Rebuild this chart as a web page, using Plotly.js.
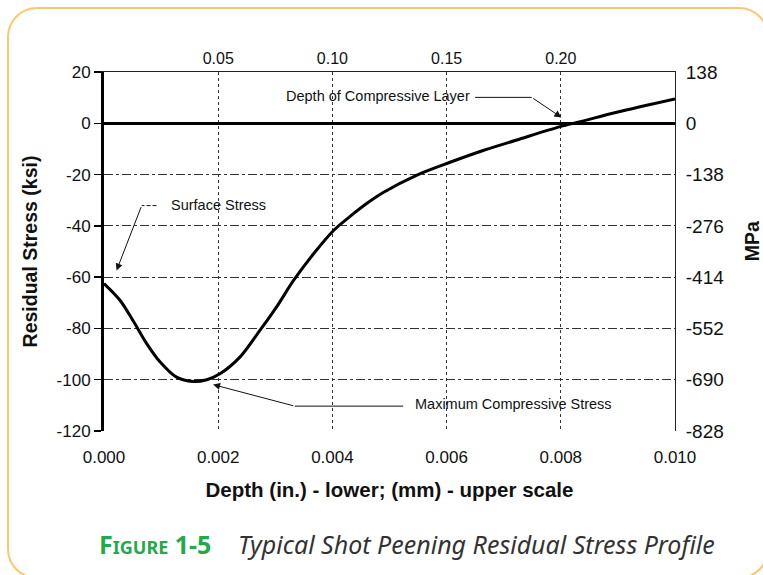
<!DOCTYPE html>
<html>
<head>
<meta charset="utf-8">
<script src="https://cdn.plot.ly/plotly-3.0.1.min.js"></script>
<style>
  html, body { margin: 0; padding: 0; background: #ffffff; overflow: hidden; }
  #frame { position: absolute; left: 7px; top: 7px; width: 762px; height: 572px; box-sizing: border-box;
           border: 2.5px solid #fdc76c; border-radius: 30px; }
  #chart { position: absolute; left: 0; top: 0; width: 763px; height: 575px; }
</style>
</head>
<body>
<div id="frame"></div>
<div id="chart"></div>
<script>
// Depth (in.) and residual stress (ksi)
const depthIn = [0, 0.00028, 0.00051, 0.00075, 0.00098, 0.00127, 0.00156, 0.0018, 0.00203, 0.00238,
                 0.00273, 0.00302, 0.00332, 0.00367, 0.00402, 0.00431, 0.0046, 0.00489, 0.0055, 0.00606,
                 0.00664, 0.00723, 0.00799, 0.00834, 0.00898, 0.0100];
const stressKsi = [-62.5, -69, -77, -86, -93, -99, -100.7, -100, -97.7, -91.2,
                   -80.8, -71.7, -61.3, -50.9, -41.8, -36.3, -31.3, -27, -20, -15.2,
                   -10.6, -6.5, -1.3, 0.6, 4.3, 9.5];

// Axis ticks
const ksiTicks = [20, 0, -20, -40, -60, -80, -100, -120];
const ksiTickText = ['20', '0', '-20', '-40', '-60', '-80', '-100', '-120'];
const mpaTicks = [138, 0, -138, -276, -414, -552, -690, -828];
const mpaTickText = ['138', '0', '-138', '-276', '-414', '-552', '-690', '-828'];
const inchTicks = [0, 0.002, 0.004, 0.006, 0.008, 0.010];
const mmTickPos = [0.002, 0.004, 0.006, 0.008];
const mmTickText = ['0.05', '0.10', '0.15', '0.20'];

// Callout labels
const calloutText = ['Depth of Compressive Layer', 'Surface Stress', 'Maximum Compressive Stress'];

const FAM = 'Liberation Sans, Arial, sans-serif';
const titleFont = { family: FAM, size: 20.5, color: '#111', weight: 'bold' };
const noteFont = { family: FAM, size: 14.5, color: '#111' };

const traces = [
  {
    x: depthIn, y: stressKsi, type: 'scatter', mode: 'lines',
    line: { color: '#000', width: 3, shape: 'spline', smoothing: 0.9 },
    hoverinfo: 'skip', showlegend: false, xaxis: 'x', yaxis: 'y'
  },
  {
    x: [null], y: [null], type: 'scatter', mode: 'lines',
    hoverinfo: 'skip', showlegend: false, xaxis: 'x2', yaxis: 'y2'
  }
];

const layout = {
  width: 763, height: 575,
  margin: { l: 104, r: 88, t: 72, b: 144, pad: 0 },
  paper_bgcolor: 'rgba(0,0,0,0)', plot_bgcolor: 'rgba(0,0,0,0)',
  showlegend: false,
  xaxis: {
    range: [0, 0.010], tickvals: inchTicks, tickformat: '.3f',
    showgrid: true, gridcolor: '#333', gridwidth: 1, griddash: 'dot',
    zeroline: false, showline: false, ticks: '', ticklabelstandoff: 14,
    tickfont: { family: FAM, size: 17, color: '#111' },
    title: { text: '<b>Depth (in.) - lower; (mm) - upper scale</b>', font: titleFont, standoff: 16 },
    automargin: false
  },
  xaxis2: {
    overlaying: 'x', side: 'top', range: [0, 0.010],
    tickvals: mmTickPos, ticktext: mmTickText,
    showgrid: false, zeroline: false, showline: true, linecolor: '#222', linewidth: 1,
    ticks: '', ticklabelstandoff: 1, tickfont: { family: FAM, size: 16, color: '#111' },
    automargin: false
  },
  yaxis: {
    range: [-120, 20], tickvals: ksiTicks, ticktext: ksiTickText,
    showgrid: true, gridcolor: '#333', gridwidth: 1, griddash: 'dashdot',
    zeroline: true, zerolinecolor: '#000', zerolinewidth: 2.5,
    showline: true, linecolor: '#000', linewidth: 3,
    ticks: 'outside', ticklen: 7, tickwidth: 1.5, tickcolor: '#000',
    tickfont: { family: FAM, size: 17, color: '#111' },
    title: { text: '<b>Residual Stress (ksi)</b>', font: { family: FAM, size: 19.5, color: '#111', weight: 'bold' }, standoff: 14 },
    automargin: false
  },
  yaxis2: {
    overlaying: 'y', side: 'right', range: [-828, 138], tickvals: mpaTicks, ticktext: mpaTickText,
    showgrid: false, zeroline: false, showline: true, linecolor: '#222', linewidth: 1,
    ticks: '', ticklabelstandoff: 6, tickfont: { family: FAM, size: 19, color: '#111' },
    automargin: false
  },
  shapes: [
    { type: 'line', xref: 'x', yref: 'y', x0: 0.0065, y0: 10.1, x1: 0.00749, y1: 10.1, line: { color: '#111', width: 1 } },
    { type: 'line', xref: 'x', yref: 'y', x0: 0.00092, y0: -32.1, x1: 0.00066, y1: -32.1, line: { color: '#111', width: 1, dash: '4px,2px' } },
    { type: 'line', xref: 'x', yref: 'y', x0: 0.00524, y0: -110.3, x1: 0.00334, y1: -110.3, line: { color: '#111', width: 1 } }
  ],
  annotations: [
    { text: '<b>MPa</b>', xref: 'paper', yref: 'paper', x: 1.135, y: 0.529, textangle: -90,
      xanchor: 'center', yanchor: 'middle', showarrow: false,
      font: { family: FAM, size: 19.5, color: '#111', weight: 'bold' } },
    { text: calloutText[0], x: 0.0048, y: 10.8, xref: 'x', yref: 'y', showarrow: false, font: noteFont },
    { text: '', x: 0.00801, y: 2.3, ax: 0.00749, ay: 10.1, axref: 'x', ayref: 'y', xref: 'x', yref: 'y',
      showarrow: true, arrowhead: 2, arrowsize: 1.4, arrowwidth: 1, arrowcolor: '#111' },
    { text: calloutText[1], x: 0.00201, y: -31.7, xref: 'x', yref: 'y', showarrow: false, font: noteFont },
    { text: '', x: 0.00022, y: -57.4, ax: 0.00066, ay: -32.1, axref: 'x', ayref: 'y', xref: 'x', yref: 'y',
      showarrow: true, arrowhead: 2, arrowsize: 1.4, arrowwidth: 1, arrowcolor: '#111' },
    { text: calloutText[2], x: 0.00718, y: -109.4, xref: 'x', yref: 'y', showarrow: false, font: noteFont },
    { text: '', x: 0.00191, y: -101.9, ax: 0.00334, ay: -110.3, axref: 'x', ayref: 'y', xref: 'x', yref: 'y',
      showarrow: true, arrowhead: 2, arrowsize: 1.4, arrowwidth: 1, arrowcolor: '#111' },
    { text: '<span style="font-size:25px">F</span><span style="font-size:18px">IGURE</span><span style="font-size:25px"> 1-5</span>',
      xref: 'paper', yref: 'paper', x: -0.012, y: -0.316, xanchor: 'left', yanchor: 'middle', showarrow: false,
      font: { family: 'Noto Sans, Open Sans, sans-serif', size: 25, color: '#23a84b', weight: 'bold' } },
    { text: '<i>Typical Shot Peening Residual Stress Profile</i>',
      xref: 'paper', yref: 'paper', x: 0.232, y: -0.316, xanchor: 'left', yanchor: 'middle', showarrow: false,
      font: { family: 'Noto Sans, Open Sans, sans-serif', size: 25, color: '#333' } }
  ]
};

Plotly.newPlot('chart', traces, layout, { staticPlot: true, displayModeBar: false });
</script>
</body>
</html>
